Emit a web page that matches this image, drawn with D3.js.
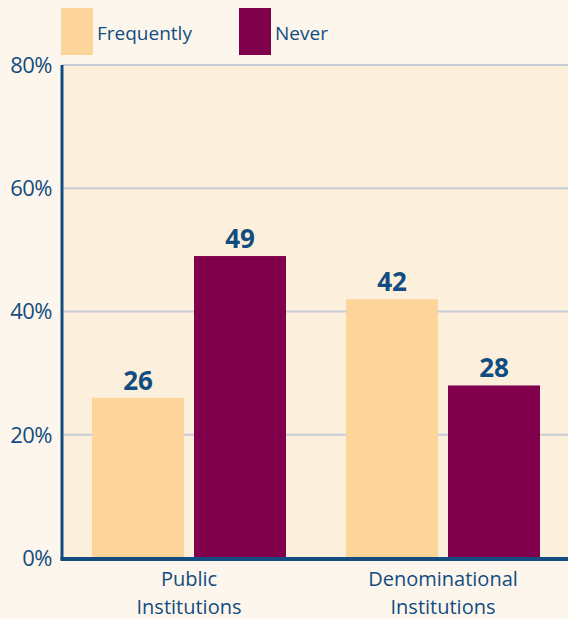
<!DOCTYPE html>
<html>
<head>
<meta charset="utf-8">
<script src="https://cdn.jsdelivr.net/npm/d3@7"></script>
<style>
  html, body { margin: 0; padding: 0; background: #fdf6ec; }
  svg { display: block; font-family: "Open Sans", "Noto Sans", sans-serif; }
</style>
</head>
<body>
<script>
// data
let groups = ['Public Institutions', 'Denominational Institutions']
let groupLines = [['Public', 'Institutions'], ['Denominational', 'Institutions']]
let series = ['Frequently', 'Never']
let frequently = [26, 42]
let never = [49, 28]
let yTicks = [0, 20, 40, 60, 80]

let colors = { Frequently: '#fdd59a', Never: '#80004c' }
let ink = '#124c80'

let width = 568, height = 619
let margin = { top: 65, left: 62, right: 0, bottom: 61 }

let svg = d3.select('body').append('svg')
  .attr('width', width).attr('height', height)

svg.append('rect').attr('width', width).attr('height', height).attr('fill', '#fdf6ec')

let y = d3.scaleLinear().domain([0, 80]).range([height - margin.bottom, margin.top])
let x0 = d3.scaleBand().domain(groups).range([margin.left, 570]).padding(0)
let x1 = d3.scaleBand().domain(series).range([30, 224]).paddingInner(10 / 102).paddingOuter(0)

// plot background
svg.append('rect')
  .attr('x', margin.left).attr('y', y(80))
  .attr('width', width - margin.left).attr('height', y(0) - y(80))
  .attr('fill', '#fcefdc')

// grid
svg.append('g').selectAll('line').data(yTicks.filter(d => d > 0)).enter()
  .append('line')
  .attr('x1', margin.left).attr('x2', width)
  .attr('y1', d => y(d)).attr('y2', d => y(d))
  .attr('stroke', '#c6ccd8').attr('stroke-width', 2)

// y labels
svg.append('g').selectAll('text').data(yTicks).enter()
  .append('text')
  .attr('x', 52).attr('y', d => y(d))
  .attr('dy', '0.36em')
  .attr('text-anchor', 'end')
  .attr('fill', ink).attr('font-size', 22)
  .attr('letter-spacing', -0.5)
  .text(d => d + '%')

let rows = []
groups.forEach((g, i) => {
  rows.push({ group: g, key: 'Frequently', value: frequently[i] })
  rows.push({ group: g, key: 'Never', value: never[i] })
})

svg.append('g').selectAll('rect').data(rows).enter()
  .append('rect')
  .attr('x', d => x0(d.group) + x1(d.key))
  .attr('width', x1.bandwidth())
  .attr('y', d => y(d.value))
  .attr('height', d => y(0) - y(d.value))
  .attr('fill', d => colors[d.key])

svg.append('g').selectAll('text').data(rows).enter()
  .append('text')
  .attr('x', d => x0(d.group) + x1(d.key) + x1.bandwidth() / 2)
  .attr('y', d => y(d.value) - 8)
  .attr('text-anchor', 'middle')
  .attr('fill', ink).attr('font-size', 26).attr('font-weight', 'bold')
  .text(d => d.value)

// axes lines
svg.append('line')
  .attr('x1', margin.left).attr('x2', margin.left)
  .attr('y1', y(80)).attr('y2', y(0) + 2)
  .attr('stroke', ink).attr('stroke-width', 3)
svg.append('line')
  .attr('x1', margin.left - 1.5).attr('x2', width)
  .attr('y1', y(0) + 1).attr('y2', y(0) + 1)
  .attr('stroke', ink).attr('stroke-width', 4)

// category labels
let cat = svg.append('g').selectAll('text').data(groups).enter()
  .append('text')
  .attr('x', d => x0(d) + x0.bandwidth() / 2)
  .attr('y', 586)
  .attr('text-anchor', 'middle')
  .attr('fill', ink).attr('font-size', 20)
cat.selectAll('tspan').data((d, i) => groupLines[i]).enter()
  .append('tspan')
  .attr('x', function () { return d3.select(this.parentNode).attr('x') })
  .attr('dy', (d, i) => i ? 28 : 0)
  .text(d => d)

// legend
let legendX = [61, 239]
let legend = svg.append('g').selectAll('g').data(series).enter()
  .append('g')
  .attr('transform', (d, i) => `translate(${legendX[i]},8)`)
legend.append('rect').attr('width', 32).attr('height', 47).attr('fill', d => colors[d])
legend.append('text')
  .attr('x', 36).attr('y', 32)
  .attr('fill', ink).attr('font-size', 19)
  .text(d => d)
</script>
</body>
</html>
